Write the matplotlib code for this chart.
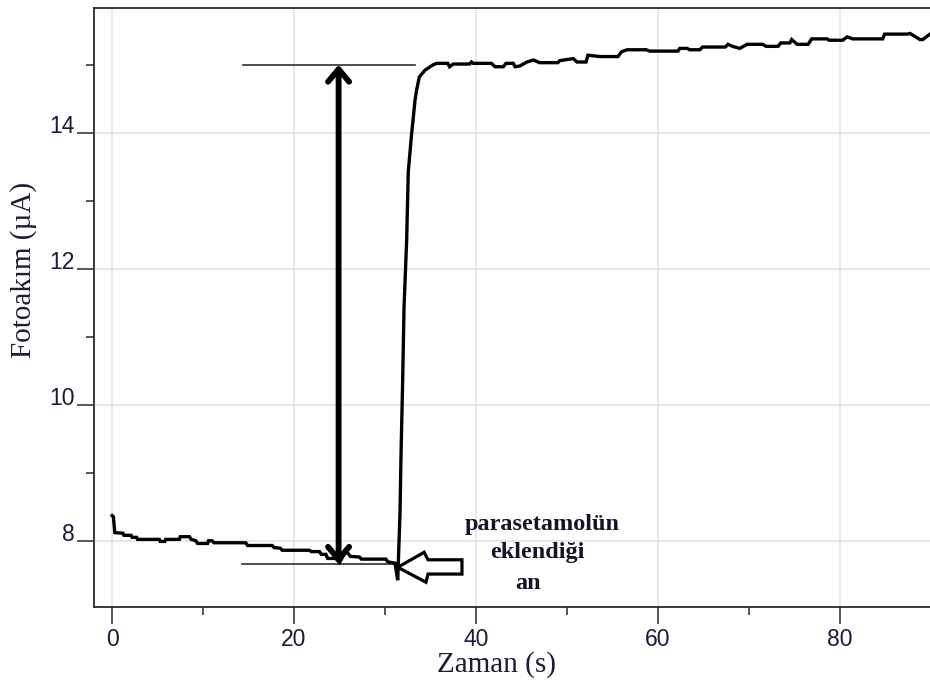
import numpy as np
import matplotlib
matplotlib.use("Agg")
import matplotlib.pyplot as plt
from matplotlib.patches import FancyArrowPatch, Polygon

# Photocurrent record: baseline, injection step, plateau
t_base = [0.0, 0.15, 0.3, 1.2, 1.3, 2.1, 2.2, 2.7, 2.8, 5.2, 5.3, 5.8, 5.9, 7.4,
          7.5, 8.5, 8.7, 9.2, 9.4, 10.5, 10.6, 11.0, 11.2, 14.7, 14.9, 17.6,
          17.8, 18.5, 18.7, 21.7, 21.9, 22.8, 23.0, 23.5, 23.7, 24.6, 25.0,
          25.3, 25.6, 25.9, 26.2, 27.2, 27.4, 30.1, 30.3, 31.1, 31.4]
i_base = [8.37, 8.35, 8.12, 8.11, 8.08, 8.08, 8.05, 8.05, 8.02, 8.02, 7.99, 7.99,
          8.02, 8.02, 8.06, 8.06, 8.02, 8.00, 7.96, 7.96, 8.00, 8.00, 7.97, 7.97,
          7.93, 7.93, 7.90, 7.89, 7.86, 7.86, 7.84, 7.84, 7.80, 7.80, 7.74, 7.74,
          7.68, 7.75, 7.84, 7.82, 7.77, 7.76, 7.73, 7.73, 7.69, 7.67, 7.42]

t_rise = [31.65, 31.76, 31.94, 32.09, 32.38, 32.56, 32.93, 33.1, 33.3, 33.48,
          33.77, 34.4, 35.3]
i_rise = [8.41, 9.26, 10.34, 11.42, 12.42, 13.43, 13.99, 14.21, 14.48, 14.63,
          14.82, 14.92, 15.00]

t_plat = [35.7, 36.9, 37.1, 37.5, 39.3, 39.5, 39.7, 41.7, 42.1, 43.0, 43.3, 44.1,
          44.3, 44.8, 45.6, 46.3, 47.0, 49.0, 49.2, 50.7, 51.1, 52.1, 52.3, 53.6,
          55.6, 56.0, 56.6, 58.7, 59.1, 62.2, 62.4, 63.2, 63.5, 64.6, 64.9, 67.4,
          67.7, 68.2, 69.0, 69.8, 71.5, 71.9, 73.2, 73.5, 74.5, 74.7, 75.3, 76.5,
          76.9, 78.6, 78.8, 80.3, 80.8, 81.4, 84.7, 84.9, 87.4, 87.7, 88.8, 89.1,
          89.9]
i_plat = [15.02, 15.02, 14.97, 15.01, 15.01, 15.04, 15.02, 15.02, 14.97, 14.97,
          15.02, 15.02, 14.97, 14.98, 15.04, 15.07, 15.03, 15.03, 15.06, 15.09,
          15.04, 15.04, 15.14, 15.12, 15.12, 15.19, 15.22, 15.22, 15.20, 15.20,
          15.24, 15.24, 15.22, 15.22, 15.26, 15.26, 15.30, 15.27, 15.24, 15.30,
          15.30, 15.27, 15.27, 15.32, 15.32, 15.37, 15.30, 15.30, 15.38, 15.38,
          15.36, 15.36, 15.41, 15.38, 15.38, 15.45, 15.45, 15.46, 15.37, 15.37,
          15.45]

x_major = [0, 20, 40, 60, 80]
x_minor = [10, 30, 50, 70]
y_major = [8, 10, 12, 14]
y_minor = [9, 11, 13, 15]

# Response amplitude marks
i_low = 7.66
i_high = 15.00
t_amp = 24.9
t_inject = 31.4

time = np.concatenate([t_base, t_rise, t_plat])
current = np.concatenate([i_base, i_rise, i_plat])

label_col = "#1c1c38"
spine_col = "#2a2a2a"

fig = plt.figure(figsize=(9.3, 6.84), dpi=100)
ax = fig.add_axes([0.1011, 0.1130, 0.8989, 0.8753])
ax.set_xlim(-1.98, 89.9)
ax.set_ylim(7.03, 15.834)

ax.set_xticks(x_major)
ax.set_xticks(x_minor, minor=True)
ax.set_yticks(y_major)
ax.set_yticks(y_minor, minor=True)
ax.grid(True, which="major", color="#e2e2e2", lw=1.1, zorder=0)
ax.set_axisbelow(True)

ax.tick_params(which="major", direction="out", length=12, width=1.1,
               color=spine_col, labelsize=16.5, labelcolor=label_col)
ax.tick_params(which="minor", direction="out", length=5.5, width=1.1,
               color=spine_col)
ax.tick_params(axis="y", which="major", pad=2)
ax.tick_params(axis="x", which="major", pad=3)
for lab in ax.get_yticklabels():
    lab.set_verticalalignment("baseline")
for lab in ax.get_xticklabels() + ax.get_yticklabels():
    lab.set_fontfamily("Liberation Sans")

for side in ("left", "top", "bottom"):
    ax.spines[side].set_color(spine_col)
    ax.spines[side].set_linewidth(1.3)
ax.spines["right"].set_visible(False)

ax.set_xlabel("Zaman (s)", fontsize=21, family="Liberation Serif", color=label_col)
ax.set_ylabel("Fotoakım (µA)", fontsize=21, family="Liberation Serif", color=label_col)
ax.xaxis.set_label_coords(0.482, -0.0974)
ax.xaxis.label.set_verticalalignment("center")
ax.yaxis.set_label_coords(-0.0849, 0.5624)
ax.yaxis.label.set_verticalalignment("center")

# Current trace
ax.plot(time, current, color="black", lw=2.4, solid_joinstyle="miter", zorder=3)

# Reference levels before and after the step
ax.plot([14.3, 31.1], [i_low, i_low], color="#303030", lw=1.2, zorder=2)
ax.plot([14.4, 33.3], [i_high, i_high], color="#303030", lw=1.2, zorder=2)

# Double-headed amplitude arrow
amp = FancyArrowPatch((t_amp, i_low), (t_amp, i_high),
                      arrowstyle="<->,head_length=0.45,head_width=0.38",
                      mutation_scale=20, lw=4.2, color="black",
                      shrinkA=0, shrinkB=0, zorder=4)
ax.add_patch(amp)

# Hollow arrow marking the injection time
arrow_x = [t_inject, 34.3, 34.73, 38.46, 38.46, 34.73, 34.5]
arrow_y = [7.61, 7.83, 7.72, 7.72, 7.51, 7.51, 7.39]
ax.add_patch(Polygon(np.column_stack([arrow_x, arrow_y]), closed=True,
                     facecolor="white", edgecolor="black", lw=2.3,
                     joinstyle="miter", zorder=5))

note_kw = dict(fontsize=17.5, family="Liberation Serif", fontweight="bold",
               color="#141428", ha="center", va="baseline", zorder=6)
ax.text(47.3, 8.157, "parasetamolün", **note_kw)
ax.text(46.7, 7.746, "eklendiği", **note_kw)
ax.text(45.7, 7.29, "an", **note_kw)

fig.savefig("out.png", dpi=100)
